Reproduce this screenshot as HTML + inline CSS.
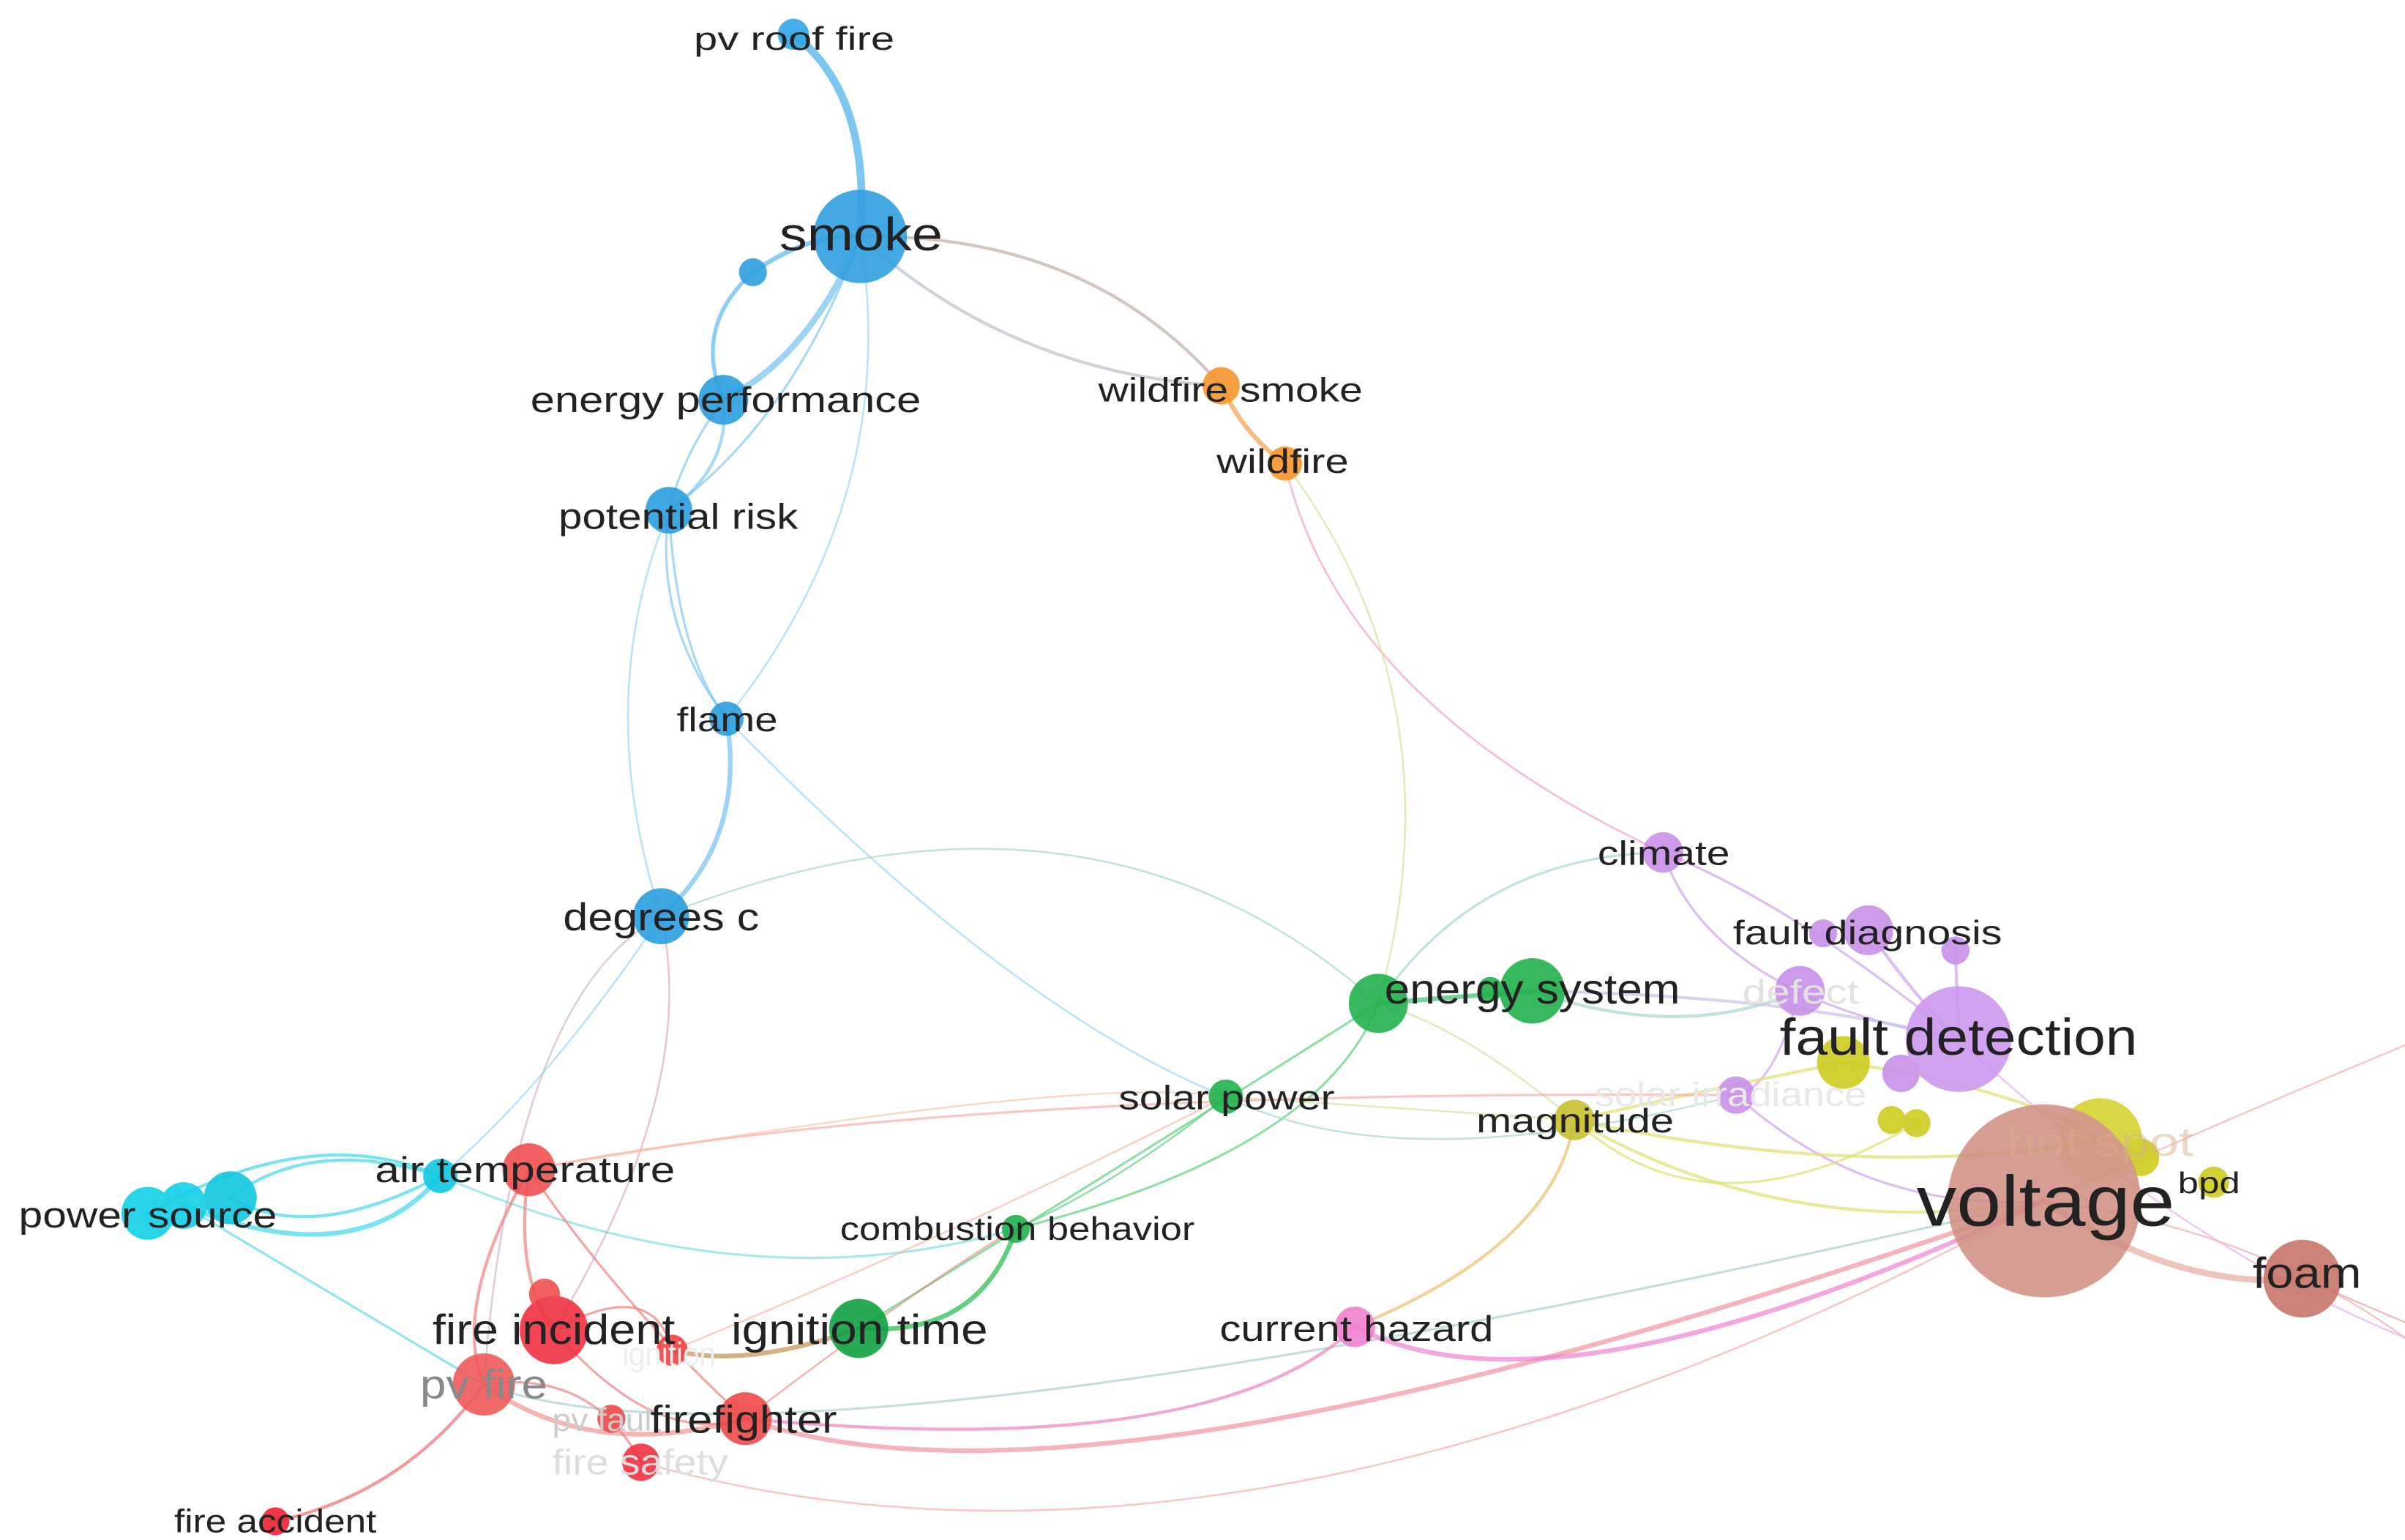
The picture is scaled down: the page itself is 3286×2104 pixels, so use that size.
<!DOCTYPE html>
<html><head><meta charset="utf-8"><style>
html,body{margin:0;padding:0;background:#fff;}
svg{display:block;}
text{font-family:"Liberation Sans",sans-serif;fill:#222;}
</style></head><body>
<svg width="3286" height="2104" viewBox="0 0 1546 990" preserveAspectRatio="none" xmlns="http://www.w3.org/2000/svg">
<rect width="1546" height="990" fill="#fff"/>
<g fill="none" stroke-linecap="round">
<path d="M510 22 Q560 60 553 152" stroke="#5bb8ee" stroke-width="5" opacity="0.8"/>
<path d="M484 175 Q520 150 553 152" stroke="#5bb8ee" stroke-width="3" opacity="0.7"/>
<path d="M484 175 Q445 210 465 257" stroke="#5bb8ee" stroke-width="2.5" opacity="0.7"/>
<path d="M553 152 Q520 230 465 257" stroke="#5bb8ee" stroke-width="4" opacity="0.6"/>
<path d="M553 152 Q510 270 430 328" stroke="#6cc0f0" stroke-width="1.5" opacity="0.6"/>
<path d="M553 152 Q580 320 467 462" stroke="#8ccff5" stroke-width="1.2" opacity="0.6"/>
<path d="M465 257 Q470 300 430 328" stroke="#6cc0f0" stroke-width="2" opacity="0.6"/>
<path d="M465 257 Q440 290 430 328" stroke="#6cc0f0" stroke-width="1.5" opacity="0.6"/>
<path d="M430 328 Q420 400 467 462" stroke="#6cc0f0" stroke-width="1.5" opacity="0.6"/>
<path d="M430 328 Q435 420 467 462" stroke="#6cc0f0" stroke-width="1.5" opacity="0.6"/>
<path d="M430 328 Q380 450 425 589" stroke="#8ccff5" stroke-width="1.2" opacity="0.6"/>
<path d="M467 462 Q480 540 425 589" stroke="#5bb8ee" stroke-width="3" opacity="0.6"/>
<path d="M467 462 Q650 650 788 705" stroke="#8ccff5" stroke-width="1.2" opacity="0.6"/>
<path d="M425 589 Q330 640 311 890" stroke="#c9a8c0" stroke-width="1.2" opacity="0.6"/>
<path d="M425 589 Q350 700 283 756" stroke="#8ccff5" stroke-width="1.2" opacity="0.6"/>
<path d="M425 589 Q450 700 356 855" stroke="#d8a0b0" stroke-width="1.2" opacity="0.6"/>
<path d="M425 589 Q700 480 886 645" stroke="#a8d8c0" stroke-width="1.2" opacity="0.7"/>
<path d="M553 152 Q700 150 785 248" stroke="#c8b8b0" stroke-width="2" opacity="0.8"/>
<path d="M553 152 Q650 240 785 248" stroke="#c0c8d0" stroke-width="2" opacity="0.8"/>
<path d="M785 248 Q800 280 826 298" stroke="#f7a050" stroke-width="3" opacity="0.7"/>
<path d="M826 298 Q860 450 1069 548" stroke="#f5a0b8" stroke-width="1.2" opacity="0.7"/>
<path d="M826 298 Q940 450 886 645" stroke="#d8e0a0" stroke-width="1.2" opacity="0.7"/>
<path d="M1069 548 Q1150 580 1259 668" stroke="#d0a0f0" stroke-width="1.5" opacity="0.7"/>
<path d="M1069 548 Q1100 640 1259 668" stroke="#d0a0f0" stroke-width="1.5" opacity="0.7"/>
<path d="M1069 548 Q950 550 886 645" stroke="#a8d8c0" stroke-width="1.5" opacity="0.7"/>
<path d="M1201 598 Q1230 640 1259 668" stroke="#d0a0f0" stroke-width="2" opacity="0.7"/>
<path d="M1257 611 L1259 668" stroke="#d0a0f0" stroke-width="2" opacity="0.7"/>
<path d="M1157 637 Q1140 700 1116 704" stroke="#d0a0f0" stroke-width="1.5" opacity="0.7"/>
<path d="M1116 704 Q1200 780 1314 772" stroke="#d0a0f0" stroke-width="1.5" opacity="0.7"/>
<path d="M1259 668 Q1400 800 1546 860" stroke="#e8b0f0" stroke-width="1.2" opacity="0.7"/>
<path d="M985 637 Q1080 670 1157 637" stroke="#a8d8c0" stroke-width="2" opacity="0.7"/>
<path d="M985 637 Q1150 640 1259 668" stroke="#c8c0e8" stroke-width="2" opacity="0.7"/>
<path d="M1012 720 Q1100 700 1185 683" stroke="#e0e070" stroke-width="2" opacity="0.7"/>
<path d="M1012 720 Q1150 800 1314 772" stroke="#e0e070" stroke-width="2" opacity="0.7"/>
<path d="M1012 720 Q1200 760 1350 733" stroke="#e0e070" stroke-width="2" opacity="0.7"/>
<path d="M1012 720 Q1100 800 1232 722" stroke="#e0e070" stroke-width="1.5" opacity="0.7"/>
<path d="M1012 720 Q1000 800 871 853" stroke="#e8c070" stroke-width="2" opacity="0.7"/>
<path d="M1012 720 Q940 660 886 645" stroke="#d8e0a0" stroke-width="1.2" opacity="0.7"/>
<path d="M1185 683 Q1300 700 1350 733" stroke="#e0e070" stroke-width="2" opacity="0.7"/>
<path d="M1314 772 Q1400 830 1480 822" stroke="#e8a8a0" stroke-width="4" opacity="0.7"/>
<path d="M1314 772 Q1450 790 1546 860" stroke="#f0b0b0" stroke-width="1.2" opacity="0.7"/>
<path d="M1314 772 Q1430 720 1546 672" stroke="#f5b0b0" stroke-width="1.2" opacity="0.7"/>
<path d="M1480 822 L1546 850" stroke="#f0a0a0" stroke-width="1.2" opacity="0.7"/>
<path d="M886 645 L985 637" stroke="#3cc070" stroke-width="3" opacity="0.7"/>
<path d="M886 645 Q850 740 653 790" stroke="#60d080" stroke-width="1.5" opacity="0.7"/>
<path d="M886 645 Q800 700 552 854" stroke="#60d080" stroke-width="1.5" opacity="0.7"/>
<path d="M788 705 Q900 760 1116 704" stroke="#a8d8c0" stroke-width="1.2" opacity="0.7"/>
<path d="M788 705 Q720 760 653 790" stroke="#60d080" stroke-width="1.2" opacity="0.7"/>
<path d="M788 705 L1012 720" stroke="#d8e0a0" stroke-width="1.2" opacity="0.7"/>
<path d="M653 790 Q630 860 552 854" stroke="#3cc060" stroke-width="3" opacity="0.8"/>
<path d="M552 854 Q480 880 432 868" stroke="#c09050" stroke-width="3" opacity="0.7"/>
<path d="M340 752 Q600 700 1116 704" stroke="#f5a0a0" stroke-width="1.5" opacity="0.6"/>
<path d="M340 752 Q700 690 788 705" stroke="#f5c0a0" stroke-width="1.2" opacity="0.6"/>
<path d="M95 780 Q200 720 283 756" stroke="#40d8e8" stroke-width="2" opacity="0.7"/>
<path d="M118 775 Q230 820 283 756" stroke="#40d8e8" stroke-width="3" opacity="0.7"/>
<path d="M148 770 Q200 800 283 756" stroke="#40d8e8" stroke-width="2" opacity="0.7"/>
<path d="M148 770 Q200 730 283 756" stroke="#40d8e8" stroke-width="2" opacity="0.7"/>
<path d="M118 775 L311 890" stroke="#60d8e8" stroke-width="1.5" opacity="0.7"/>
<path d="M283 756 Q480 840 653 790" stroke="#70d8d8" stroke-width="1.5" opacity="0.6"/>
<path d="M311 890 Q500 960 1314 772" stroke="#a8d0d0" stroke-width="1.5" opacity="0.7"/>
<path d="M340 752 Q330 820 356 855" stroke="#f08080" stroke-width="2" opacity="0.7"/>
<path d="M340 752 Q290 840 311 890" stroke="#f08080" stroke-width="2" opacity="0.7"/>
<path d="M340 752 Q400 840 479 912" stroke="#f08080" stroke-width="1.5" opacity="0.7"/>
<path d="M356 855 Q420 820 432 868" stroke="#f08080" stroke-width="1.5" opacity="0.7"/>
<path d="M356 855 Q420 930 479 912" stroke="#f08080" stroke-width="1.5" opacity="0.7"/>
<path d="M311 890 Q380 940 479 912" stroke="#f08080" stroke-width="3" opacity="0.6"/>
<path d="M311 890 Q260 960 177 978" stroke="#f08080" stroke-width="2" opacity="0.8"/>
<path d="M311 890 Q380 880 412 940" stroke="#f08080" stroke-width="1.5" opacity="0.7"/>
<path d="M479 912 Q700 990 1314 772" stroke="#f08090" stroke-width="3" opacity="0.6"/>
<path d="M412 940 Q800 1050 1314 772" stroke="#f5a0a0" stroke-width="1.2" opacity="0.6"/>
<path d="M432 868 Q600 800 788 705" stroke="#f5b0a0" stroke-width="1.2" opacity="0.6"/>
<path d="M479 912 Q600 820 653 790" stroke="#f08080" stroke-width="1.2" opacity="0.6"/>
<path d="M871 853 Q1000 920 1314 772" stroke="#f080d0" stroke-width="3" opacity="0.7"/>
<path d="M871 853 Q780 940 479 912" stroke="#f080c0" stroke-width="2" opacity="0.7"/>
</g>
<g opacity="0.9">
<circle cx="510" cy="22" r="10" fill="#2fa6e6"/>
<circle cx="553" cy="152" r="30" fill="#2fa0e0"/>
<circle cx="484" cy="175" r="9" fill="#2fa0e0"/>
<circle cx="465" cy="257" r="16" fill="#2a9ede"/>
<circle cx="430" cy="328" r="15" fill="#2a9ede"/>
<circle cx="467" cy="462" r="11" fill="#2a9ede"/>
<circle cx="425" cy="589" r="18" fill="#2a9ede"/>
<circle cx="785" cy="248" r="12" fill="#f7962e"/>
<circle cx="826" cy="298" r="11" fill="#f7962e"/>
<circle cx="1069" cy="548" r="13" fill="#c890e8"/>
<circle cx="1172" cy="600" r="9" fill="#c890e8"/>
<circle cx="1201" cy="598" r="16" fill="#c890e8"/>
<circle cx="1257" cy="611" r="9" fill="#c890e8"/>
<circle cx="1157" cy="637" r="16" fill="#c890e8"/>
<circle cx="1259" cy="668" r="34" fill="#cc98ee"/>
<circle cx="1185" cy="683" r="17" fill="#cccc20"/>
<circle cx="1222" cy="690" r="12" fill="#c890e8"/>
<circle cx="1116" cy="704" r="12" fill="#c890e8"/>
<circle cx="1216" cy="720" r="9" fill="#cccc20"/>
<circle cx="1232" cy="722" r="9" fill="#cccc20"/>
<circle cx="1350" cy="733" r="27" fill="#d4d430"/>
<circle cx="1376" cy="744" r="12" fill="#cccc20"/>
<circle cx="1314" cy="772" r="62" fill="#d08c80" opacity="0.95"/>
<circle cx="1423" cy="760" r="10" fill="#cccc20"/>
<circle cx="1480" cy="822" r="25" fill="#c87468"/>
<circle cx="886" cy="645" r="19" fill="#20b04a"/>
<circle cx="958" cy="636" r="8" fill="#20b04a"/>
<circle cx="985" cy="637" r="21" fill="#20b04a"/>
<circle cx="788" cy="705" r="11" fill="#20b04a"/>
<circle cx="1012" cy="720" r="13" fill="#c8c030"/>
<circle cx="653" cy="790" r="9" fill="#20b04a"/>
<circle cx="552" cy="854" r="19" fill="#10a040"/>
<circle cx="871" cy="853" r="13" fill="#f080d0"/>
<circle cx="95" cy="780" r="17" fill="#10d0e8"/>
<circle cx="118" cy="775" r="15" fill="#10d0e8"/>
<circle cx="148" cy="770" r="17" fill="#10c8e0"/>
<circle cx="283" cy="756" r="11" fill="#10c8e0"/>
<circle cx="340" cy="752" r="17" fill="#f05050"/>
<circle cx="350" cy="832" r="10" fill="#f05050"/>
<circle cx="356" cy="855" r="22" fill="#f03040"/>
<circle cx="432" cy="868" r="10" fill="#f04040"/>
<circle cx="311" cy="890" r="20" fill="#f05858"/>
<circle cx="393" cy="912" r="9" fill="#f04848"/>
<circle cx="479" cy="912" r="17" fill="#f04848"/>
<circle cx="412" cy="940" r="12" fill="#f03040"/>
<circle cx="177" cy="978" r="9" fill="#f02030"/>
</g>
<g>
<text x="446" y="32" font-size="21" textLength="129" lengthAdjust="spacingAndGlyphs">pv roof fire</text>
<text x="501" y="161" font-size="30" textLength="105" lengthAdjust="spacingAndGlyphs">smoke</text>
<text x="341" y="265" font-size="23" textLength="251" lengthAdjust="spacingAndGlyphs">energy performance</text>
<text x="359" y="340" font-size="23" textLength="154" lengthAdjust="spacingAndGlyphs">potential risk</text>
<text x="435" y="470" font-size="22" textLength="65" lengthAdjust="spacingAndGlyphs">flame</text>
<text x="362" y="598" font-size="25" textLength="126" lengthAdjust="spacingAndGlyphs">degrees c</text>
<text x="706" y="258" font-size="22" textLength="170" lengthAdjust="spacingAndGlyphs">wildfire smoke</text>
<text x="782" y="304" font-size="22" textLength="85" lengthAdjust="spacingAndGlyphs">wildfire</text>
<text x="1027" y="556" font-size="22" textLength="85" lengthAdjust="spacingAndGlyphs">climate</text>
<text x="1114" y="607" font-size="22" textLength="173" lengthAdjust="spacingAndGlyphs">fault diagnosis</text>
<text x="1120" y="645" font-size="22" style="fill:#e2e2e2" textLength="75" lengthAdjust="spacingAndGlyphs">defect</text>
<text x="1025" y="711" font-size="22" style="fill:#e8e8e8" textLength="175" lengthAdjust="spacingAndGlyphs">solar irradiance</text>
<text x="1144" y="678" font-size="33" textLength="230" lengthAdjust="spacingAndGlyphs">fault detection</text>
<text x="1290" y="743" font-size="26" style="fill:#d8b088;opacity:0.5" textLength="120" lengthAdjust="spacingAndGlyphs">hot spot</text>
<text x="1232" y="788" font-size="46" textLength="166" lengthAdjust="spacingAndGlyphs">voltage</text>
<text x="1400" y="767" font-size="19" textLength="40" lengthAdjust="spacingAndGlyphs">bpd</text>
<text x="1448" y="828" font-size="28" textLength="70" lengthAdjust="spacingAndGlyphs">foam</text>
<text x="890" y="645" font-size="27" textLength="190" lengthAdjust="spacingAndGlyphs">energy system</text>
<text x="719" y="713" font-size="22" textLength="139" lengthAdjust="spacingAndGlyphs">solar power</text>
<text x="949" y="728" font-size="22" textLength="127" lengthAdjust="spacingAndGlyphs">magnitude</text>
<text x="540" y="797" font-size="21" textLength="228" lengthAdjust="spacingAndGlyphs">combustion behavior</text>
<text x="470" y="864" font-size="27" textLength="165" lengthAdjust="spacingAndGlyphs">ignition time</text>
<text x="784" y="862" font-size="23" textLength="176" lengthAdjust="spacingAndGlyphs">current hazard</text>
<text x="12" y="789" font-size="23" textLength="166" lengthAdjust="spacingAndGlyphs">power source</text>
<text x="241" y="760" font-size="23" textLength="193" lengthAdjust="spacingAndGlyphs">air temperature</text>
<text x="400" y="878" font-size="22" style="fill:#eee" textLength="60" lengthAdjust="spacingAndGlyphs">ignition</text>
<text x="278" y="864" font-size="27" textLength="156" lengthAdjust="spacingAndGlyphs">fire incident</text>
<text x="270" y="899" font-size="26" style="fill:#888" textLength="82" lengthAdjust="spacingAndGlyphs">pv fire</text>
<text x="355" y="920" font-size="21" style="fill:#ccc" textLength="70" lengthAdjust="spacingAndGlyphs">pv fault</text>
<text x="418" y="921" font-size="25" textLength="120" lengthAdjust="spacingAndGlyphs">firefighter</text>
<text x="355" y="948" font-size="23" style="fill:#ddd" textLength="113" lengthAdjust="spacingAndGlyphs">fire safety</text>
<text x="112" y="985" font-size="21" textLength="130" lengthAdjust="spacingAndGlyphs">fire accident</text>
</g>
</svg>
</body></html>
